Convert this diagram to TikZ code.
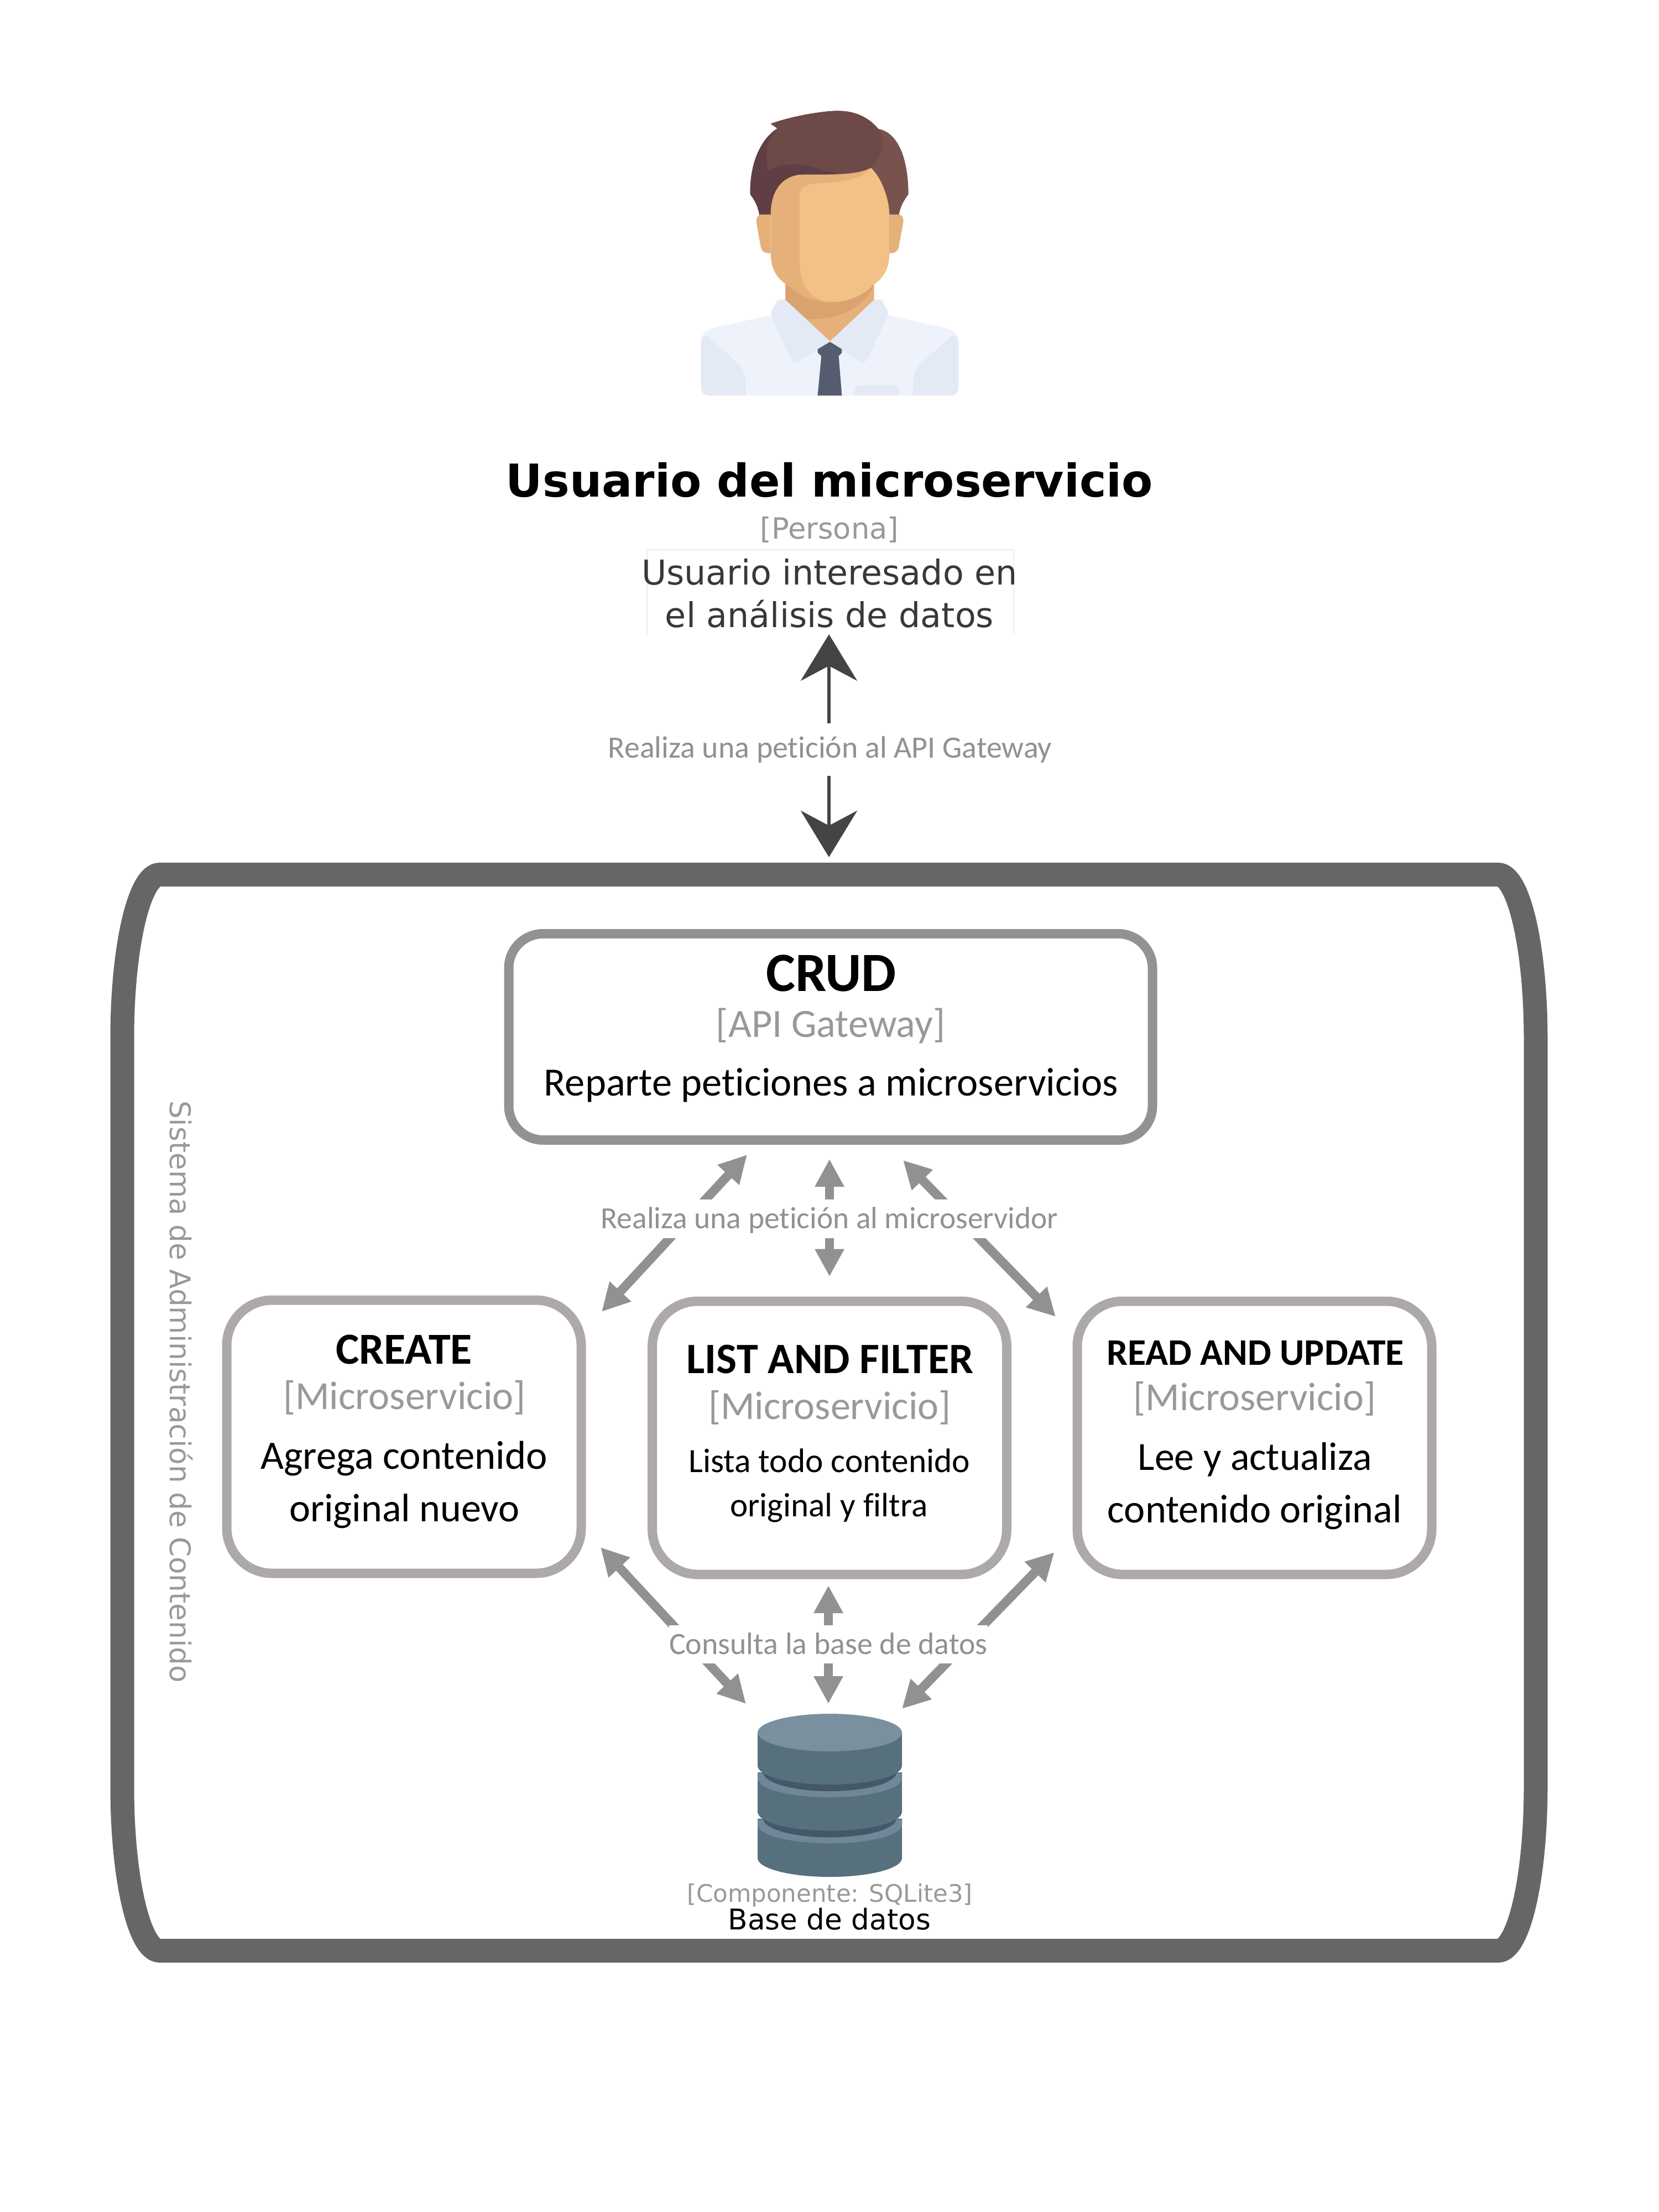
\documentclass[tikz,border=0pt]{standalone}
\usepackage{fontspec}
\setmainfont{Carlito}[Ligatures=CommonOff]
\newfontfamily\dejavu{DejaVu Sans}
\usetikzlibrary{arrows.meta, calc}
\definecolor{sysgray}{HTML}{666666}
\definecolor{gatewaygray}{HTML}{929292}
\definecolor{servicegray}{HTML}{ADA9A8}
\definecolor{arrowgray}{HTML}{919191}
\definecolor{notegray}{HTML}{999999}
\definecolor{userarrowgray}{HTML}{444444}
\definecolor{hairlight}{HTML}{78534E}
\definecolor{hairmid}{HTML}{6D4A47}
\definecolor{hairdark}{HTML}{5F3F45}
\definecolor{skinshade}{HTML}{E6B07A}
\definecolor{skinlight}{HTML}{F2C185}
\definecolor{neckshade}{HTML}{D9A26F}
\definecolor{shirtlight}{HTML}{EEF2FB}
\definecolor{shirtshade}{HTML}{E4EAF5}
\definecolor{tieblue}{HTML}{575D70}
\definecolor{dbtop}{HTML}{7A909E}
\definecolor{dbbody}{HTML}{56707D}
\definecolor{dbrim}{HTML}{6F8798}
\definecolor{dbgroove}{HTML}{445867}
\tikzset{
    every node/.style={inner sep=0pt, outer sep=0pt},
    gatewaybox/.style={draw=gatewaygray, line width=.17cm, rounded corners=.62cm, minimum width=11.64cm, minimum height=3.73cm},
    servicebox/.style={draw=servicegray, line width=.17cm, rounded corners=.82cm, minimum width=6.41cm, minimum height=4.94cm},
    titletext/.style={anchor=base, font=\bfseries\fontsize{#1}{#1}\selectfont},
    notetext/.style={anchor=base, text=notegray, font=\fontsize{#1}{#1}\selectfont},
    bodytext/.style={anchor=base, font=\fontsize{#1}{#1}\selectfont},
    decutext/.style={anchor=base, font=\dejavu\fontsize{#1}{#1}\selectfont},
    linklabel/.style={anchor=base, text=arrowgray, fill=white, font=\fontsize{#1}{#1}\selectfont},
    reqarrow/.style={{Stealth[length=.5cm, width=.5cm, inset=0pt]}-{Stealth[length=.5cm, width=.5cm, inset=0pt]}, draw=arrowgray, line width=.165cm},
    userarrow/.style={{Stealth[length=.84cm, width=1.02cm, inset=.27cm]}-{Stealth[length=.84cm, width=1.02cm, inset=.27cm]}, draw=userarrowgray, line width=.06cm},
}
\begin{document}
\begin{tikzpicture}
    \useasboundingbox (0,0) rectangle (30,-40);

    \begin{scope}[shift={(11.5,-1.5)}, x=.004464cm, y=-.004146cm]
        \fill[shirtlight] (300,1362) .. controls (275,1362) and (263,1345) .. (263,1325) -- (263,1130) .. controls (263,1095) and (285,1075) .. (310,1068) -- (545,1012) -- (1020,1012) -- (1255,1068) .. controls (1285,1075) and (1305,1095) .. (1305,1130) -- (1305,1325) .. controls (1305,1345) and (1295,1362) .. (1270,1362) -- cycle;
        \fill[shirtshade] (263,1130) .. controls (263,1115) and (275,1105) .. (290,1100) -- (420,1230) .. controls (440,1255) and (445,1275) .. (445,1362) -- (300,1362) .. controls (275,1362) and (263,1345) .. (263,1325) -- cycle;
        \fill[shirtshade] (1305,1130) .. controls (1305,1115) and (1295,1105) .. (1278,1100) -- (1145,1230) .. controls (1125,1255) and (1120,1275) .. (1120,1362) -- (1270,1362) .. controls (1295,1362) and (1305,1345) .. (1305,1325) -- cycle;
        \fill[shirtshade] (885,1362) -- (885,1335) .. controls (885,1325) and (895,1318) .. (905,1318) -- (1045,1318) .. controls (1055,1318) and (1062,1325) .. (1062,1335) -- (1062,1362) -- cycle;
        \fill[shirtshade] (575,945) -- (605,943) -- (785,1125) -- (655,1215) .. controls (640,1222) and (630,1215) .. (625,1200) -- (548,1015) .. controls (543,1000) and (548,990) .. (555,980) -- cycle;
        \fill[shirtshade] (995,945) -- (963,943) -- (785,1125) -- (905,1215) .. controls (920,1222) and (930,1215) .. (938,1200) -- (1018,1015) .. controls (1022,1000) and (1018,990) .. (1012,980) -- cycle;
        \fill[skinshade] (605,870) -- (605,945) -- (785,1125) -- (963,945) -- (963,870) -- cycle;
        \fill[neckshade] (605,870) -- (605,945) -- (690,1028) .. controls (800,1035) and (920,990) .. (963,880) -- cycle;
        \fill[tieblue] (785,1128) -- (833,1160) -- (833,1175) -- (820,1190) -- (833,1362) -- (735,1362) -- (750,1190) -- (735,1175) -- (735,1160) -- cycle;
        \fill[hairlight] (545,178) .. controls (640,140) and (780,118) .. (830,122) .. controls (900,125) and (950,160) .. (980,200) .. controls (1060,215) and (1102,330) .. (1102,485) .. controls (1085,510) and (1068,540) .. (1063,580) -- (500,580) .. controls (495,540) and (480,510) .. (462,485) .. controls (460,340) and (510,240) .. (572,198) -- cycle;
        \fill[hairdark] (572,198) .. controls (510,240) and (460,340) .. (462,485) .. controls (480,510) and (495,540) .. (500,580) -- (700,580) -- (820,395) .. controls (730,380) and (640,320) .. (535,380) .. controls (520,310) and (530,250) .. (572,198) -- cycle;
        \fill[hairmid] (545,178) .. controls (640,140) and (780,118) .. (830,122) .. controls (900,125) and (950,160) .. (980,200) .. controls (1010,240) and (1005,310) .. (950,370) .. controls (900,395) and (860,400) .. (820,395) .. controls (730,380) and (640,320) .. (535,380) .. controls (520,310) and (530,250) .. (572,198) -- cycle;
        \fill[skinshade] (545,573) -- (510,573) .. controls (490,573) and (485,590) .. (488,615) -- (505,715) .. controls (510,735) and (520,742) .. (545,742) -- cycle;
        \fill[skinshade] (1025,573) -- (1060,573) .. controls (1078,573) and (1085,590) .. (1080,615) -- (1063,715) .. controls (1058,735) and (1048,742) .. (1025,742) -- cycle;
        \fill[skinshade] (545,575) .. controls (545,470) and (590,410) .. (660,400) .. controls (740,395) and (880,410) .. (950,370) .. controls (1000,420) and (1025,520) .. (1025,575) -- (1025,740) .. controls (1025,810) and (1000,850) .. (960,880) .. controls (920,925) and (860,955) .. (785,955) .. controls (700,955) and (650,915) .. (605,875) .. controls (570,850) and (545,810) .. (545,740) -- cycle;
        \fill[skinlight] (950,370) .. controls (1000,420) and (1025,520) .. (1025,575) -- (1025,740) .. controls (1025,810) and (1000,850) .. (960,880) .. controls (920,925) and (860,955) .. (785,955) .. controls (710,950) and (662,880) .. (662,780) -- (662,490) .. controls (662,455) and (690,440) .. (730,438) .. controls (830,430) and (910,425) .. (950,370) -- cycle;
    \end{scope}

    \node[decutext=20, font=\dejavu\bfseries\fontsize{23.3}{23.3}\selectfont] (usertitle) at (15,-8.98) {Usuario del microservicio};
    \node[decutext=15, text=notegray] (usernote) at (15,-9.745) {[Persona]};
    \node[minimum width=6.63cm, minimum height=1.53cm] (userframe) at (15.015,-10.705) {};
    \draw[black!7, line width=.02cm] (userframe.south west) -- (userframe.north west) -- (userframe.north east) -- (userframe.south east);
    \node[decutext=17.6, text=black!78] (userdesca) at (15,-10.57) {Usuario interesado en};
    \node[decutext=17.6, text=black!78] (userdescb) at (15,-11.34) {el análisis de datos};

    \node[minimum width=25.56cm, minimum height=19.46cm] (sysbox) at (14.99,-25.545) {};
    \draw[draw=sysgray, line width=.43cm]
        ($(sysbox.north west)+(.68,0)$) -- ($(sysbox.north east)+(-.68,0)$)
        arc[start angle=90, end angle=0, x radius=.68, y radius=2.96]
        -- ($(sysbox.south east)+(0,2.96)$)
        arc[start angle=0, end angle=-90, x radius=.68, y radius=2.96]
        -- ($(sysbox.south west)+(.68,0)$)
        arc[start angle=270, end angle=180, x radius=.68, y radius=2.96]
        -- ($(sysbox.north west)+(0,-2.96)$)
        arc[start angle=180, end angle=90, x radius=.68, y radius=2.96]
        -- cycle;
    \draw[userarrow, shorten >=.315cm] (sysbox.north |- userframe.south) -- (sysbox.north);
    \node[linklabel=15.9, text height=.62cm, text depth=.33cm] (apilabel) at (15.01,-13.70) {Realiza una petición al API Gateway};
    \node[decutext=14.7, text=notegray, rotate=-90, anchor=base west] (syslabel) at (3.07,-19.9) {Sistema de Administración de Contenido};

    \node[gatewaybox] (crudbox) at (15.02,-18.75) {};
    \node[titletext=28.5] (crudtitle) at (15.03,-17.92) {CRUD};
    \node[notetext=20.6] (crudnote) at (15.02,-18.75) {[API Gateway]};
    \node[bodytext=20.6] (cruddesc) at (15.03,-19.81) {Reparte peticiones a microservicios};

    \node[servicebox] (createbox) at (7.305,-25.98) {};
    \node[titletext=22.8] (createtitle) at (7.305,-24.66) {CREATE};
    \node[notetext=20.5] (createnote) at (7.315,-25.48) {[Microservicio]};
    \node[bodytext=20.7] (createdesca) at (7.305,-26.56) {Agrega contenido};
    \node[bodytext=20.5] (createdescb) at (7.315,-27.51) {original nuevo};

    \node[servicebox] (listbox) at (15,-26) {};
    \node[titletext=22.3] (listtitle) at (15.01,-24.83) {LIST AND FILTER};
    \node[notetext=20.5] (listnote) at (15.005,-25.66) {[Microservicio]};
    \node[bodytext=17.5] (listdesca) at (15,-26.62) {Lista todo contenido};
    \node[bodytext=17.4] (listdescb) at (14.99,-27.42) {original y filtra};

    \node[servicebox] (readbox) at (22.685,-26) {};
    \node[titletext=19.3] (readtitle) at (22.70,-24.68) {READ AND UPDATE};
    \node[notetext=20.5] (readnote) at (22.69,-25.50) {[Microservicio]};
    \node[bodytext=20.5] (readdesca) at (22.695,-26.58) {Lee y actualiza};
    \node[bodytext=20.6] (readdescb) at (22.69,-27.53) {contenido original};

    \coordinate (gwtipa) at (13.51,-20.88);
    \coordinate (gwtipb) at (16.33,-20.98);
    \coordinate (gwtipc) at (10.88,-23.72);
    \coordinate (gwtipd) at (19.09,-23.81);
    \draw[reqarrow] (gwtipa) -- (gwtipc);
    \draw[reqarrow] (gwtipb) -- (gwtipd);
    \draw[reqarrow, shorten <=.345cm, shorten >=.445cm] (listbox.north |- crudbox.south) -- (listbox.north);
    \node[linklabel=15.8, text height=.52cm, text depth=.18cm] (gwlabel) at (15,-22.21) {Realiza una petición al microservidor};

    \node[minimum width=2.61cm, minimum height=2.93cm] (dbcyl) at (14.98,-32.455) {};
    \foreach \dy in {1.67,.835} {
        \fill[dbbody] (13.70,-31.215-\dy) rectangle (16.31,-31.93-\dy) (13.70,-31.93-\dy) arc[start angle=180, end angle=360, x radius=1.305, y radius=.34] -- cycle;
        \fill[dbrim] (13.70,-31.235-\dy) -- (16.31,-31.235-\dy) -- (16.31,-31.325-\dy) arc[start angle=0, end angle=-180, x radius=1.305, y radius=.34] -- cycle;
        \fill[dbgroove] (13.80,-31.215-\dy) arc[start angle=180, end angle=360, x radius=1.205, y radius=.34] -- cycle;
    }
    \fill[dbbody] (13.70,-31.33) rectangle (16.31,-31.93) (13.70,-31.93) arc[start angle=180, end angle=360, x radius=1.305, y radius=.34] -- cycle;
    \fill[dbtop] (15.005,-31.33) ellipse[x radius=1.305, y radius=.34];

    \node[decutext=12.4, text=notegray] (dbnote) at (15.005,-34.39) {[Componente: SQLite3]};
    \node[decutext=14.7] (dbname) at (15,-34.89) {Base de datos};

    \coordinate (dbtipa) at (10.86,-27.98);
    \coordinate (dbtipb) at (19.065,-28.07);
    \coordinate (dbtipc) at (13.49,-30.81);
    \coordinate (dbtipd) at (16.31,-30.90);
    \draw[reqarrow] (dbtipa) -- (dbtipc);
    \draw[reqarrow] (dbtipb) -- (dbtipd);
    \draw[reqarrow, shorten <=.20cm, shorten >=.18cm] (dbcyl.north |- listbox.south) -- (dbcyl.north);
    \node[linklabel=15.9, text height=.52cm, text depth=.17cm] (dblabel) at (14.98,-29.91) {Consulta la base de datos};
\end{tikzpicture}
\end{document}
